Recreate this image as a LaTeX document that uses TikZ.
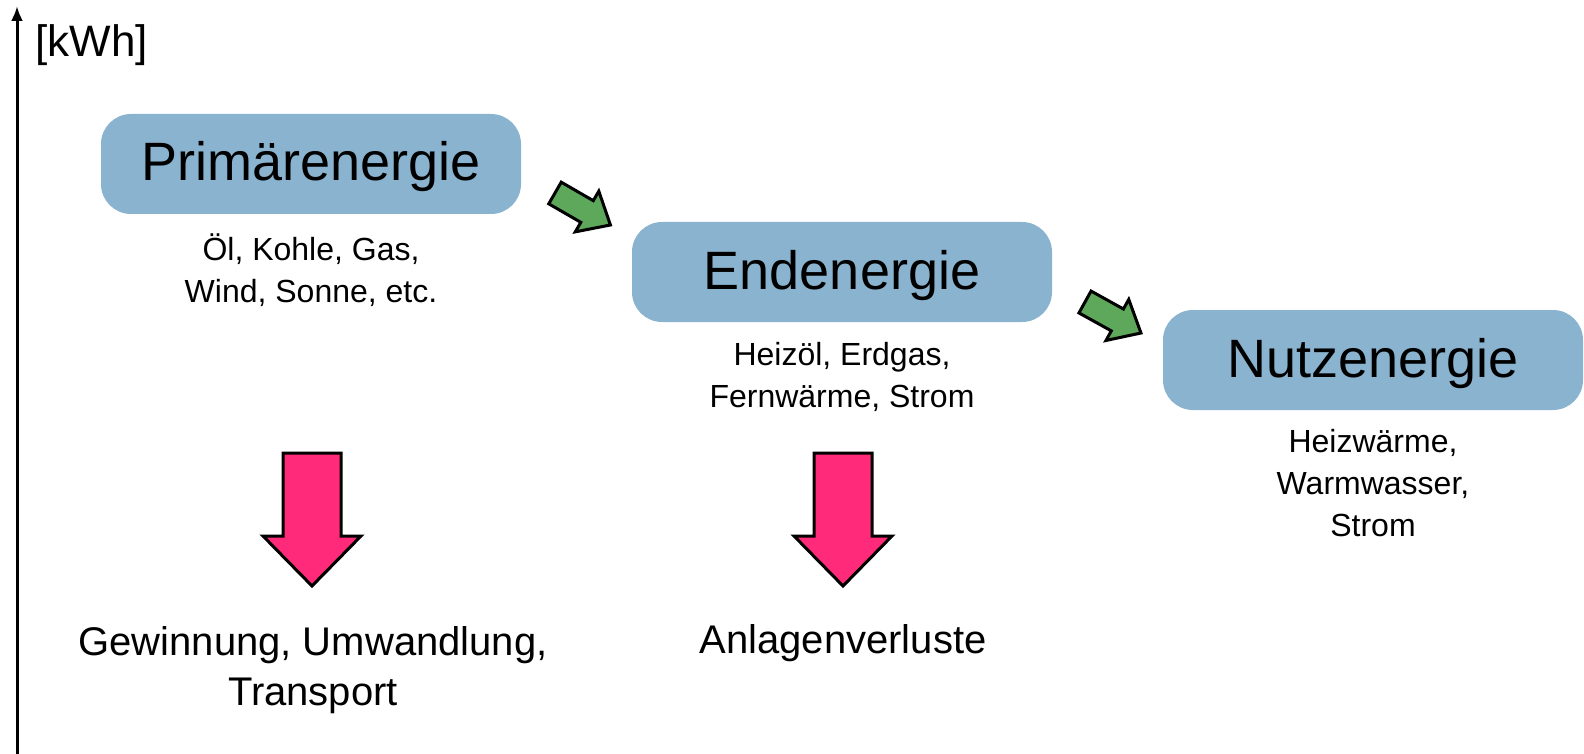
\documentclass[tikz,border=0pt]{standalone}
\usepackage{fontspec}
\setmainfont{Liberation Sans}
\usepackage{tikz}
\usetikzlibrary{arrows.meta, positioning}

\definecolor{boxblue}{HTML}{89B3CE}
\definecolor{losspink}{HTML}{FF2A7A}
\definecolor{stepgreen}{HTML}{5DA85B}

\tikzset{
	ebox/.style={fill=boxblue, rounded corners=15pt, minimum width=210pt,
		minimum height=50pt, inner sep=0pt, text height=20pt, text depth=3pt,
		font=\fontsize{27}{32}\selectfont},
	elabel/.style={align=center, inner sep=0pt, font=\fontsize{16}{21}\selectfont},
	vlabel/.style={align=center, inner sep=0pt, font=\fontsize{20}{25}\selectfont},
	greenarrow/.pic={
		\draw[fill=stepgreen, line width=1.5pt, line join=miter]
			(0,12.5) -- (37,12.5) -- (37,23.5) -- (64,0) -- (37,-23.5)
			-- (37,-12.5) -- (0,-12.5) -- cycle;
	},
	pinkarrow/.pic={
		\draw[fill=losspink, line width=1.5pt, line join=miter]
			(-29,0) -- (29,0) -- (29,-83) -- (49,-83) -- (0,-133)
			-- (-49,-83) -- (-29,-83) -- cycle;
	}
}

\begin{document}
\begin{tikzpicture}[x=0.5pt, y=0.5pt]
	\useasboundingbox (0,0) rectangle (1584,-754);

	% axis
	\coordinate (axisbot) at (17,-754);
	\coordinate (axistop) at (17,-6);
	\draw[line width=1.5pt, -{Latex[length=7.5pt, width=6pt]}] (axisbot) -- (axistop);
	\node[anchor=west, inner sep=0pt, font=\fontsize{22}{26}\selectfont] (unit) at (35,-45) {[kWh]};

	% energy boxes
	\node[ebox] (prim) at (311,-164) {Primärenergie};
	\node[ebox] (end) at (842,-272) {Endenergie};
	\node[ebox] (nutz) at (1373,-360) {Nutzenergie};

	% what each one is
	\node[elabel] (primtxt) at (311,-270) {Öl, Kohle, Gas,\\Wind, Sonne, etc.};
	\node[elabel] (endtxt) at (842,-377) {Heizöl, Erdgas,\\Fernwärme, Strom};
	\node[elabel] (nutztxt) at (1373,-483) {Heizwärme,\\Warmwasser,\\Strom};

	% steps between the boxes
	\pic[rotate=-30] at (555,-193) {greenarrow};
	\pic[rotate=-29] at (1085,-302) {greenarrow};

	% losses
	\pic at (312,-453) {pinkarrow};
	\pic at (843,-453) {pinkarrow};
	\node[vlabel] (loss1) at (313,-670) {Gewinnung, Umwandlung,\\Transport};
	\node[vlabel] (loss2) at (843,-643) {Anlagenverluste};
\end{tikzpicture}
\end{document}
